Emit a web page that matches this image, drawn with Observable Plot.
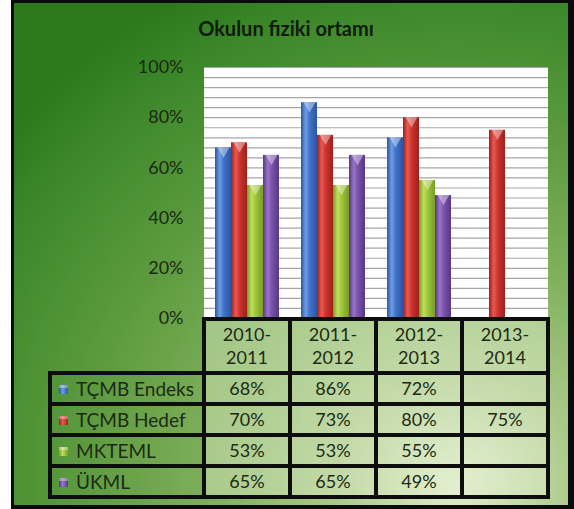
<!DOCTYPE html>
<html><head><meta charset="utf-8">
<script src="https://cdn.jsdelivr.net/npm/d3@7"></script>
<script src="https://cdn.jsdelivr.net/npm/@observablehq/plot@0.6"></script>
<style>
  html, body { margin: 0; padding: 0; background: #fff; }
  body { width: 574px; height: 509px; position: relative; overflow: hidden; font-family: Lato, "Open Sans", sans-serif; }
  #frame { position: absolute; left: 11px; top: 0; width: 563px; height: 509px; background: #0b0b0b; }
  #bg { position: absolute; left: 14px; top: 3px; width: 554px; height: 502px;
        background: radial-gradient(ellipse 105% 110% at 80% 96%, #e2eecf 0%, #acca8b 20%, #7fb05b 42%, #5e9b40 64%, #3f8a2c 86%, #2c7a1c 100%); }
  #plotbg { position: absolute; background: #fff; }
  #title { position: absolute; left: 14px; top: 16px; width: 544px; text-align: center; font-weight: bold; font-size: 20px; color: #111a0c; }
  #chart { position: absolute; left: 0; top: 0; }
  .cell { position: absolute; box-sizing: border-box; display: flex; align-items: center; justify-content: center; font-size: 18px; color: #1d2a14; line-height: 23px; text-align: center; }
  .data { background: rgba(228, 240, 210, 0.42); }
  .leg { justify-content: flex-start; padding-left: 26px; font-size: 19px; }
  .line { position: absolute; background: #0d0d0d; }
  .mk { position: absolute; left: 9px; width: 9px; height: 9px; }
</style></head>
<body>
<div id="frame"></div>
<div id="bg"></div>
<div id="plotbg"></div>
<div id="title">Okulun fiziki ortamı</div>
<div id="chart"></div>
<div id="table"></div>
<script>
const years = ["2010-2011", "2011-2012", "2012-2013", "2013-2014"];
const seriesNames = ["TÇMB Endeks", "TÇMB Hedef", "MKTEML", "ÜKML"];
const endeks = [68, 86, 72, null];
const hedef  = [70, 73, 80, 75];
const mkteml = [53, 53, 55, null];
const ukml   = [65, 65, 49, null];
const yTicks = [0, 20, 40, 60, 80, 100];
const gridTicks = d3.range(0, 101, 4);
const seriesValues = [endeks, hedef, mkteml, ukml];
// bar gradient colours: [edge, light, mid]
const barColors = [
  ["#2b56a3", "#6d9ee6", "#3f72c6"],
  ["#9b211d", "#ea5a52", "#cc332d"],
  ["#789c25", "#bfdf5c", "#9cc53a"],
  ["#573785", "#9a74c9", "#7a52ac"]
];

const rows = years.flatMap((year, i) =>
  seriesValues.map((arr, j) => ({year, series: seriesNames[j], value: arr[i]}))
).filter(d => d.value != null);

const chart = Plot.plot({
  width: 574, height: 320,
  marginLeft: 203, marginRight: 26, marginTop: 67, marginBottom: 2,
  style: {background: "transparent", fontFamily: "Lato, 'Open Sans', sans-serif", overflow: "visible"},
  fx: {domain: years, padding: 0, axis: null},
  x: {domain: seriesNames, paddingInner: 0.02, paddingOuter: 0.62, axis: null},
  y: {domain: [0, 100], axis: null},
  color: {type: "ordinal", domain: seriesNames, range: seriesNames.map((_, i) => `url(#barGrad${i})`)},
  marks: [
    Plot.gridY(gridTicks, {stroke: "#a6a6a6", strokeOpacity: 1, strokeWidth: 1.2}),
    Plot.axisY(yTicks, {label: null, tickSize: 0, tickPadding: 21, tickFormat: d => d + "%", fontSize: 18, fill: "#1b2812"}),
    Plot.barY(rows, {fx: "year", x: "series", y: "value", fill: "series"}),
    Plot.dot(rows, {fx: "year", x: "series", y: "value", symbol: "triangle", rotate: 180, r: 4.4, dy: 3, fill: "white", fillOpacity: 0.4, stroke: "none"})
  ]
});

// gradients for cylinder look
const ns = "http://www.w3.org/2000/svg";
const defs = document.createElementNS(ns, "defs");
barColors.forEach((c, i) => {
  const g = document.createElementNS(ns, "linearGradient");
  g.setAttribute("id", `barGrad${i}`);
  g.setAttribute("x1", "0"); g.setAttribute("x2", "1"); g.setAttribute("y1", "0"); g.setAttribute("y2", "0");
  [[0, c[0]], [0.3, c[1]], [0.55, c[2]], [1, c[0]]].forEach(([o, col]) => {
    const s = document.createElementNS(ns, "stop");
    s.setAttribute("offset", o); s.setAttribute("stop-color", col);
    g.appendChild(s);
  });
  defs.appendChild(g);
});
chart.insertBefore(defs, chart.firstChild);
document.getElementById("chart").appendChild(chart);

const fx = chart.scale("fx");
const ys = chart.scale("y");
const colLeft = years.map(y => fx.apply(y));
const colW = fx.bandwidth;
const tableRight = colLeft[colLeft.length - 1] + colW;

// white plot area from the scales
const pb = document.getElementById("plotbg");
Object.assign(pb.style, {left: colLeft[0] + "px", top: ys.apply(100) + "px", width: (tableRight - colLeft[0]) + "px", height: (ys.apply(0) - ys.apply(100)) + "px"});

// data table aligned to the chart's fx scale
const legLeft = 50;
const tableTop = 318, headH = 55, rowH = 31;
const table = document.getElementById("table");
const rowTop = i => tableTop + headH + i * rowH;
const bottom = rowTop(seriesNames.length);

function add(cls, style, html) {
  const d = document.createElement("div");
  d.className = cls;
  Object.assign(d.style, style);
  if (html != null) d.innerHTML = html;
  table.appendChild(d);
  return d;
}
years.forEach((y, i) => {
  add("cell data", {left: colLeft[i] + "px", top: tableTop + "px", width: colW + "px", height: headH + "px"},
      y.split("-").map((p, k) => k === 0 ? p + "-" : p).join("<br>"));
});
seriesNames.forEach((name, j) => {
  const top = rowTop(j);
  const leg = add("cell leg", {left: legLeft + "px", top: top + "px", width: (colLeft[0] - legLeft) + "px", height: rowH + "px"}, name);
  const c = barColors[j];
  const mk = document.createElement("div");
  mk.className = "mk";
  mk.style.top = (rowH / 2 - 4) + "px";
  mk.style.background = `linear-gradient(90deg, ${c[0]}, ${c[1]} 40%, ${c[0]})`;
  mk.style.boxShadow = `inset 0 3px 0 rgba(255,255,255,0.35)`;
  leg.appendChild(mk);
  years.forEach((y, i) => {
    const v = seriesValues[j][i];
    add("cell data", {left: colLeft[i] + "px", top: top + "px", width: colW + "px", height: rowH + "px"}, v == null ? "" : v + "%");
  });
});
const lw = 4;
[...colLeft, tableRight].forEach(x => add("line", {left: (x - lw / 2) + "px", top: (tableTop - 1) + "px", width: lw + "px", height: (bottom - tableTop + lw / 2 + 1) + "px"}));
add("line", {left: (legLeft - lw / 2) + "px", top: (rowTop(0) - 1) + "px", width: lw + "px", height: (bottom - rowTop(0) + lw / 2 + 1) + "px"});
add("line", {left: (colLeft[0] - lw / 2) + "px", top: (tableTop - lw / 2 + 1) + "px", width: (tableRight - colLeft[0] + lw) + "px", height: lw + "px"});
for (let j = 0; j <= seriesNames.length; j++) {
  const y = rowTop(j);
  add("line", {left: (legLeft - lw / 2) + "px", top: (y - lw / 2) + "px", width: (tableRight - legLeft + lw) + "px", height: lw + "px"});
}
</script>
</body></html>
